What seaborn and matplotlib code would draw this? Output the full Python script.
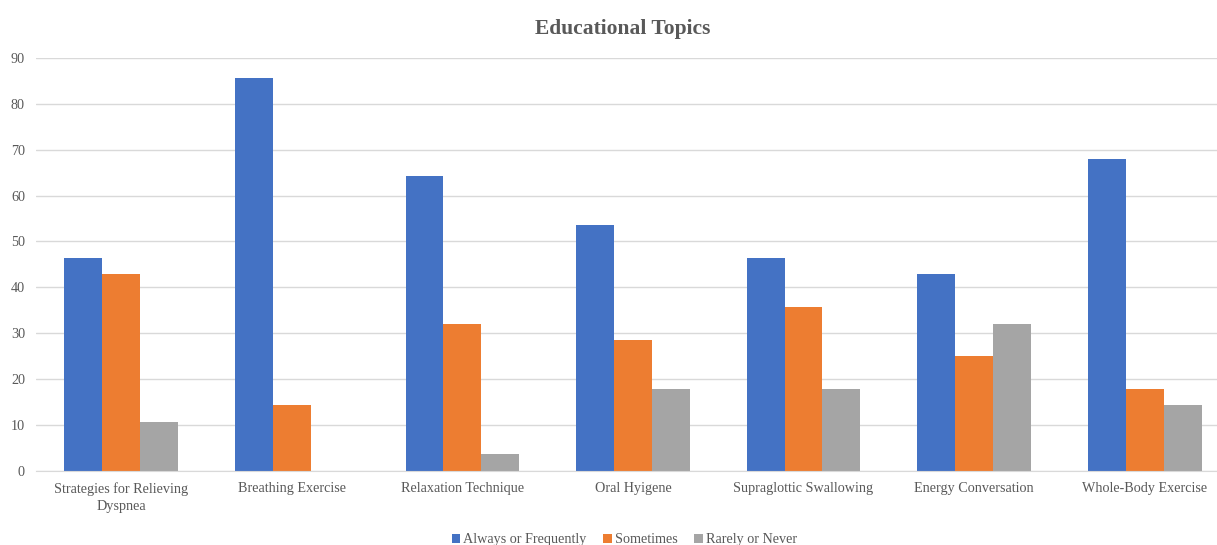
import matplotlib
matplotlib.use("Agg")
import matplotlib.pyplot as plt
import pandas as pd
import seaborn as sns

topics = [
    "Strategies for Relieving\nDyspnea",
    "Breathing Exercise",
    "Relaxation Technique",
    "Oral Hyigene",
    "Supraglottic Swallowing",
    "Energy Conversation",
    "Whole-Body Exercise",
]
series = ["Always or Frequently", "Sometimes", "Rarely or Never"]
always = [46.4, 85.7, 64.3, 53.6, 46.4, 42.9, 67.9]
sometimes = [42.9, 14.3, 32.1, 28.6, 35.7, 25.0, 17.9]
rarely = [10.7, 0.0, 3.6, 17.9, 17.9, 32.1, 14.3]
colors = ["#4472C4", "#ED7D31", "#A5A5A5"]

data = pd.DataFrame({
    "topic": topics * 3,
    "group": [s for s in series for _ in topics],
    "value": always + sometimes + rarely,
})

sns.set_style("white")
plt.rcParams["font.family"] = ["Liberation Serif", "DejaVu Serif"]

fig = plt.figure(figsize=(12.17, 5.45), dpi=100)
ax = fig.add_axes([0.0296, 0.1358, 0.981, 0.758])

sns.barplot(
    data=data, x="topic", y="value", hue="group",
    order=topics, hue_order=series, palette=colors,
    width=0.667, gap=0, saturation=1, linewidth=0, ax=ax,
)

ax.set_ylim(0, 90)
ax.set_yticks(range(0, 91, 10))
ax.yaxis.grid(True, color="#D9D9D9", linewidth=1)
ax.set_axisbelow(True)
for side in ["top", "right", "left"]:
    ax.spines[side].set_visible(False)
ax.spines["bottom"].set_color("#D9D9D9")
ax.tick_params(axis="both", length=0, labelsize=10.2, colors="#595959", pad=8)
for lbl in ax.get_xticklabels():
    lbl.set_linespacing(1.45)
ax.set_xlabel("")
ax.set_ylabel("")
ax.set_title("Educational Topics", fontsize=15.5, fontweight="bold",
             color="#595959", pad=17, x=0.4916)

handles, labels = ax.get_legend_handles_labels()
ax.legend_.remove()
fig.legend(handles, labels, loc="center", bbox_to_anchor=(0.513, 0.01),
           ncol=3, frameon=False, fontsize=10.2, handlelength=0.6,
           handleheight=0.6, handletextpad=0.2, columnspacing=1.2,
           labelcolor="#595959")

fig.savefig("out.png", dpi=100)
